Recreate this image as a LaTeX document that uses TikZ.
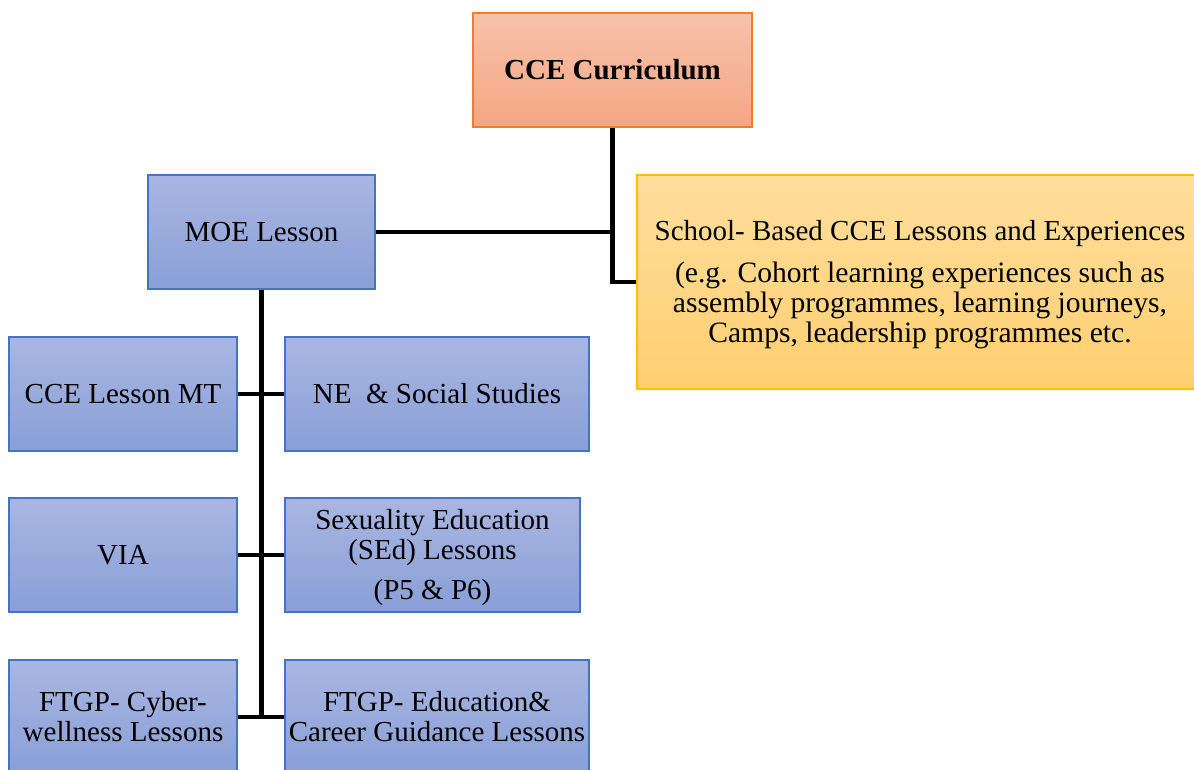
\documentclass[tikz,border=0pt]{standalone}
\usepackage{fontspec}
\setmainfont{Liberation Serif}
\definecolor{bluetop}{RGB}{169,182,225}
\definecolor{bluebot}{RGB}{137,159,215}
\definecolor{blueline}{RGB}{68,114,196}
\definecolor{orangetop}{RGB}{247,194,170}
\definecolor{orangebot}{RGB}{244,166,131}
\definecolor{orangeline}{RGB}{237,125,49}
\definecolor{yellowtop}{RGB}{255,222,157}
\definecolor{yellowbot}{RGB}{255,207,112}
\definecolor{yellowline}{RGB}{255,192,0}
\begin{document}
\begin{tikzpicture}[x=1pt,y=-1pt,
  box/.style={draw, line width=1.2pt, inner sep=0pt, align=center,
    font=\fontsize{29}{30}\selectfont},
  bluebox/.style={box, draw=blueline, top color=bluetop, bottom color=bluebot},
  link/.style={line width=4.5pt, black}]
\useasboundingbox (0,0) rectangle (1194,770);
\clip (0,0) rectangle (1194,770);

% root
\node[box, draw=orangeline, top color=orangetop, bottom color=orangebot,
  minimum width=279pt, minimum height=114pt, font=\fontsize{29}{30}\selectfont\bfseries]
  (cce) at (612.5,70) {CCE Curriculum};

% school-based branch (text block set a little low inside the box)
\node[box, draw=yellowline, top color=yellowtop, bottom color=yellowbot,
  minimum width=566pt, minimum height=214pt] (school) at (920,282) {};
\node[align=center, inner sep=0pt, font=\fontsize{29}{30}\selectfont] (schooltext)
  at (920,285) {School- Based CCE Lessons and Experiences\\[12pt]
  \fontsize{29.6}{30}\selectfont(e.g. Cohort learning experiences such as\\
  \fontsize{29.6}{30}\selectfont assembly programmes, learning journeys,\\
  \fontsize{29.6}{30}\selectfont Camps, leadership programmes etc.};

% MOE branch
\node[bluebox, minimum width=227pt, minimum height=114pt] (moe) at (261.5,232) {MOE Lesson};

\node[bluebox, minimum width=228pt, minimum height=114pt] (mt) at (123,394) {CCE Lesson MT};
\node[bluebox, minimum width=304pt, minimum height=114pt] (ne) at (437,394) {NE\ \ \& Social Studies};

\node[bluebox, minimum width=228pt, minimum height=114pt] (via) at (123,555) {VIA};
\node[bluebox, minimum width=295pt, minimum height=114pt] (sed) at (432.5,555) {};
\node[align=center, inner sep=0pt, font=\fontsize{29}{30}\selectfont] (sedtext)
  at (432.5,558) {Sexuality Education\\(SEd) Lessons\\[10pt](P5 \& P6)};

\node[bluebox, minimum width=228pt, minimum height=114pt] (cyber) at (123,717)
  {FTGP- Cyber-\\wellness Lessons};
\node[bluebox, minimum width=304pt, minimum height=114pt] (edu) at (437,717)
  {FTGP- Education\&\\Career Guidance Lessons};

\coordinate (trunkend) at (261.5,717);

% connectors
\draw[link] (cce.south) |- (school.west);
\draw[link] (moe.east) -- (moe.east -| cce.south);
\draw[link] (moe.south) -- (trunkend);
\draw[link] (mt.east) -- (ne.west);
\draw[link] (via.east) -- (sed.west);
\draw[link] (cyber.east) -- (edu.west);
\end{tikzpicture}
\end{document}
